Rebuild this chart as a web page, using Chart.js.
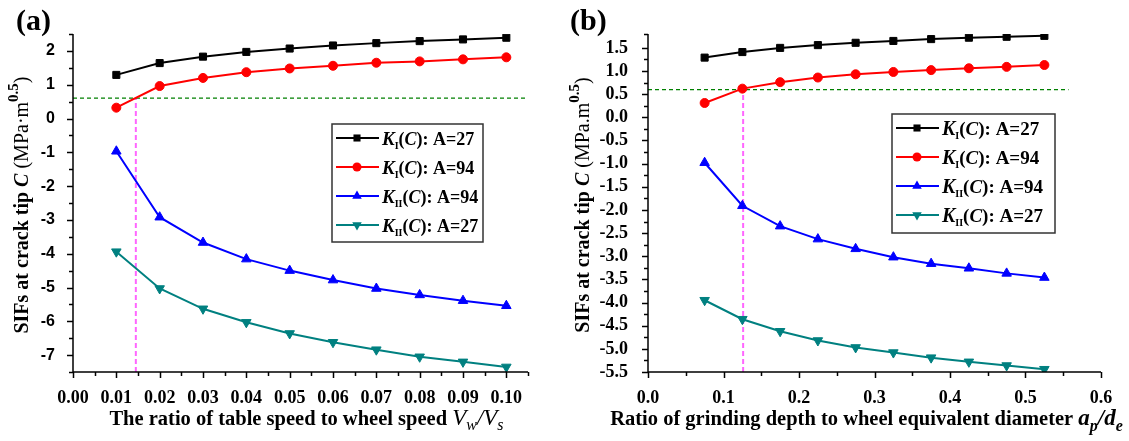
<!DOCTYPE html>
<html>
<head>
<meta charset="utf-8">
<script src="https://cdn.jsdelivr.net/npm/chart.js@4.4.1/dist/chart.umd.min.js"></script>
<style>
  body { margin: 0; background: #fff; }
  #wrap { position: relative; width: 1129px; height: 441px; }
  canvas { position: absolute; top: 0; }
  #chartA { left: 0; }
  #chartB { left: 564px; }
</style>
</head>
<body>
<div id="wrap">
  <canvas id="chartA" width="564" height="441"></canvas>
  <canvas id="chartB" width="565" height="441"></canvas>
</div>
<script>
// (a) ratio of table speed to wheel speed Vw/Vs
const speedRatio = [0.01, 0.02, 0.03, 0.04, 0.05, 0.06, 0.07, 0.08, 0.09, 0.10];
const kIA27 = [1.29, 1.64, 1.83, 1.97, 2.07, 2.16, 2.23, 2.29, 2.34, 2.39];
const kIA94 = [0.32, 0.96, 1.20, 1.37, 1.48, 1.56, 1.65, 1.69, 1.75, 1.81];
const kIIA94 = [-0.97, -2.92, -3.67, -4.16, -4.50, -4.78, -5.03, -5.22, -5.39, -5.54];
const kIIA27 = [-3.94, -5.03, -5.63, -6.03, -6.36, -6.62, -6.84, -7.05, -7.20, -7.35];

// (b) ratio of grinding depth to wheel equivalent diameter ap/de
const depthRatio = [0.075, 0.125, 0.175, 0.225, 0.275, 0.325, 0.375, 0.425, 0.475, 0.525];
const kIB27 = [1.29, 1.41, 1.50, 1.56, 1.61, 1.65, 1.69, 1.72, 1.74, 1.76];
const kIB94 = [0.31, 0.62, 0.76, 0.86, 0.93, 0.98, 1.02, 1.06, 1.09, 1.13];
const kIIB94 = [-0.98, -1.91, -2.35, -2.63, -2.84, -3.02, -3.16, -3.26, -3.37, -3.46];
const kIIB27 = [-3.95, -4.36, -4.62, -4.82, -4.97, -5.08, -5.19, -5.28, -5.36, -5.44];

// legend entries: mode subscript and A value
const seriesMode = ['I', 'I', 'II', 'II'];
const seriesA = ['27', '94', '94', '27'];
const seriesColors = ['#000000', '#ff0000', '#0000ff', '#008080'];

// threshold 0.6 and where K_I(C) for A=94 crosses it
const threshold = 0.6;
const crossA = 0.0145;
const crossB = 0.126;
const thresholdEndB = 0.557;

const serif = '"Liberation Serif", "Times New Roman", serif';
const sans = '"Liberation Sans", Arial, sans-serif';

function pts(xs, ys) {
  return xs.map((x, i) => ({ x: x, y: ys[i] }));
}

function series(xs, ys, idx, style, rot, r) {
  return {
    data: pts(xs, ys),
    borderColor: seriesColors[idx],
    backgroundColor: seriesColors[idx],
    borderWidth: 2,
    pointStyle: style,
    pointRotation: rot,
    pointRadius: r,
    pointBorderWidth: 1,
    tension: 0,
    legendIdx: idx
  };
}

function refLine(points, color, dash, width) {
  return {
    data: points,
    borderColor: color,
    borderWidth: width,
    borderDash: dash,
    pointRadius: 0,
    tension: 0
  };
}

function richWidth(ctx, parts) {
  let w = 0;
  parts.forEach(p => { ctx.font = p.font; w += ctx.measureText(p.text).width; });
  return w;
}

function drawRich(ctx, parts, x, y, align) {
  let cx = align === 'center' ? x - richWidth(ctx, parts) / 2 : x;
  ctx.textAlign = 'left';
  ctx.textBaseline = 'alphabetic';
  parts.forEach(p => {
    ctx.font = p.font;
    ctx.fillText(p.text, cx, y + (p.dy || 0));
    cx += ctx.measureText(p.text).width;
  });
}

function marker(ctx, style, rot, r, x, y) {
  ctx.beginPath();
  if (style === 'rect') {
    const s = r * Math.SQRT1_2;
    ctx.rect(x - s, y - s, 2 * s, 2 * s);
  } else if (style === 'circle') {
    ctx.arc(x, y, r, 0, Math.PI * 2);
  } else {
    let rad = rot * Math.PI / 180;
    for (let k = 0; k < 3; k++) {
      const px = x + Math.sin(rad) * r, py = y - Math.cos(rad) * r;
      if (k === 0) ctx.moveTo(px, py); else ctx.lineTo(px, py);
      rad += Math.PI * 2 / 3;
    }
    ctx.closePath();
  }
  ctx.fill();
}

// left + bottom axis lines with outward major/minor ticks
const axesPlugin = {
  id: 'originAxes',
  afterDatasetsDraw(chart) {
    const { ctx, chartArea: a, scales: { x, y } } = chart;
    ctx.save();
    ctx.strokeStyle = '#000';
    ctx.lineWidth = 1.5;
    ctx.beginPath();
    ctx.moveTo(a.left, a.top);
    ctx.lineTo(a.left, a.bottom);
    ctx.lineTo(a.right, a.bottom);
    x.ticks.forEach(t => {
      const px = Math.round(x.getPixelForValue(t.value)) + 0.5;
      ctx.moveTo(px, a.bottom);
      ctx.lineTo(px, a.bottom + (t.label ? 6 : 4));
    });
    y.ticks.forEach(t => {
      const py = Math.round(y.getPixelForValue(t.value)) + 0.5;
      ctx.moveTo(a.left, py);
      ctx.lineTo(a.left - (t.label ? 6 : 4), py);
    });
    ctx.stroke();
    ctx.restore();
  }
};

// panel letter, axis titles with italics/subscripts, boxed legend
const textPlugin = {
  id: 'panelText',
  afterDraw(chart, args, o) {
    const ctx = chart.ctx;
    const a = chart.chartArea;
    ctx.save();
    ctx.fillStyle = '#000';
    ctx.font = 'bold 30px ' + serif;
    ctx.textAlign = 'left';
    ctx.textBaseline = 'alphabetic';
    ctx.fillText(o.letter, o.letterX, 30);

    drawRich(ctx, o.xTitle, (a.left + a.right) / 2 + o.xTitleShift, 425, 'center');

    ctx.save();
    ctx.translate(o.yTitleX, (a.top + a.bottom) / 2 + 2);
    ctx.rotate(-Math.PI / 2);
    drawRich(ctx, o.yTitle, 0, 0, 'center');
    ctx.restore();

    const L = o.legend;
    const fs = L.font;
    ctx.strokeStyle = '#333';
    ctx.lineWidth = 1.5;
    ctx.strokeRect(L.x, L.y, L.w, L.h);
    chart.data.datasets.forEach(ds => {
      if (ds.legendIdx === undefined) return;
      const i = ds.legendIdx;
      const ry = L.y + 14 + i * 29;
      ctx.strokeStyle = ds.borderColor;
      ctx.lineWidth = 2;
      ctx.beginPath();
      ctx.moveTo(L.x + 4, ry);
      ctx.lineTo(L.x + 47, ry);
      ctx.stroke();
      ctx.fillStyle = ds.borderColor;
      marker(ctx, ds.pointStyle, ds.pointRotation, ds.pointRadius, L.x + 25, ry);
      ctx.fillStyle = '#000';
      drawRich(ctx, [
        { text: 'K', font: 'italic bold ' + (fs + 1) + 'px ' + serif },
        { text: seriesMode[i], font: 'bold 10px ' + serif, dy: 4 },
        { text: '(', font: 'bold ' + fs + 'px ' + serif },
        { text: 'C', font: 'italic bold ' + fs + 'px ' + serif },
        { text: '): A=' + seriesA[i], font: 'bold ' + fs + 'px ' + serif }
      ], L.x + 50, ry + 7, 'left');
    });
    ctx.restore();
  }
};

function yTitle(dot) {
  return [
    { text: 'SIFs at crack tip ', font: 'bold 20px ' + serif },
    { text: 'C', font: 'italic bold 20px ' + serif },
    { text: ' (MPa' + dot + 'm', font: '20px ' + serif },
    { text: '0.5', font: 'bold 15px ' + serif, dy: -10 },
    { text: ')', font: '20px ' + serif }
  ];
}

function makeChart(id, datasets, xOpts, yOpts, pad, yWidth, text) {
  return new Chart(document.getElementById(id), {
    type: 'line',
    data: { datasets: datasets },
    options: {
      responsive: false,
      animation: false,
      devicePixelRatio: 1,
      events: [],
      layout: { padding: pad },
      plugins: { legend: { display: false }, tooltip: { enabled: false }, panelText: text },
      scales: {
        x: Object.assign({
          type: 'linear',
          grid: { display: false },
          border: { display: false },
          afterFit: s => { s.height = 69; }
        }, xOpts),
        y: Object.assign({
          type: 'linear',
          grid: { display: false },
          border: { display: false },
          afterFit: s => { s.width = yWidth; }
        }, yOpts)
      }
    },
    plugins: [axesPlugin, textPlugin]
  });
}

makeChart('chartA', [
  series(speedRatio, kIA27, 0, 'rect', 0, 5),
  series(speedRatio, kIA94, 1, 'circle', 0, 4.5),
  series(speedRatio, kIIA94, 2, 'triangle', 0, 5.5),
  series(speedRatio, kIIA27, 3, 'triangle', 180, 5.5),
  refLine([{ x: 0, y: threshold }, { x: 0.105, y: threshold }], '#008000', [4, 3], 1.3),
  refLine([{ x: crossA, y: -7.5 }, { x: crossA, y: threshold }], '#ff66ff', [5, 3], 2)
], {
  min: 0, max: 0.105,
  ticks: {
    stepSize: 0.005, autoSkip: false, maxRotation: 0, padding: 8, color: '#000',
    font: { family: serif, size: 18, weight: 'bold' },
    callback: v => (Math.round(v * 1000) % 10 === 0 ? v.toFixed(2) : '')
  }
}, {
  min: -7.5, max: 2.5,
  ticks: {
    stepSize: 0.5, autoSkip: false, padding: 10, color: '#000',
    font: { family: sans, size: 16, weight: 'bold' },
    callback: v => (Math.abs(v - Math.round(v)) < 1e-6 ? String(Math.round(v)) : '')
  }
}, { top: 34, right: 36, left: 0, bottom: 0 }, 73, {
  letter: '(a)', letterX: 16,
  xTitle: [
    { text: 'The ratio of table speed to wheel speed ', font: 'bold 20.5px ' + serif },
    { text: 'V', font: 'italic 23px ' + serif },
    { text: 'w', font: 'italic 16px ' + serif, dy: 5 },
    { text: '/', font: 'italic 23px ' + serif },
    { text: 'V', font: 'italic 23px ' + serif },
    { text: 's', font: 'italic 16px ' + serif, dy: 5 }
  ],
  xTitleShift: 6,
  yTitle: yTitle('\u00b7'),
  yTitleX: 28,
  legend: { x: 332, y: 124, w: 151, h: 118, font: 18 }
});

makeChart('chartB', [
  series(depthRatio, kIB27, 0, 'rect', 0, 5),
  series(depthRatio, kIB94, 1, 'circle', 0, 4.5),
  series(depthRatio, kIIB94, 2, 'triangle', 0, 5.5),
  series(depthRatio, kIIB27, 3, 'triangle', 180, 5.5),
  refLine([{ x: 0, y: threshold }, { x: thresholdEndB, y: threshold }], '#008000', [4, 3], 1.3),
  refLine([{ x: crossB, y: -5.5 }, { x: crossB, y: threshold }], '#ff66ff', [5, 3], 2)
], {
  min: 0, max: 0.6,
  ticks: {
    stepSize: 0.05, autoSkip: false, maxRotation: 0, padding: 8, color: '#000',
    font: { family: serif, size: 18, weight: 'bold' },
    callback: v => (Math.round(v * 100) % 10 === 0 ? v.toFixed(1) : '')
  }
}, {
  min: -5.5, max: 1.8,
  ticks: {
    stepSize: 0.25, autoSkip: false, padding: 12, color: '#000',
    font: { family: serif, size: 18, weight: 'bold' },
    callback: v => {
      const h = Math.round(v * 2) / 2;
      return Math.abs(v - h) < 1e-6 ? (h === 0 ? '0.0' : h.toFixed(1)) : '';
    }
  }
}, { top: 34, right: 28, left: 0, bottom: 0 }, 84, {
  letter: '(b)', letterX: 6,
  xTitle: [
    { text: 'Ratio of grinding depth to wheel equivalent diameter ', font: 'bold 20.5px ' + serif },
    { text: 'a', font: 'italic bold 23px ' + serif },
    { text: 'p', font: 'italic bold 16px ' + serif, dy: 6 },
    { text: '/', font: 'italic bold 23px ' + serif },
    { text: 'd', font: 'italic bold 23px ' + serif },
    { text: 'e', font: 'italic bold 16px ' + serif, dy: 6 }
  ],
  xTitleShift: -8,
  yTitle: yTitle('.'),
  yTitleX: 25,
  legend: { x: 328, y: 114, w: 163, h: 119, font: 19 }
});
</script>
</body>
</html>
